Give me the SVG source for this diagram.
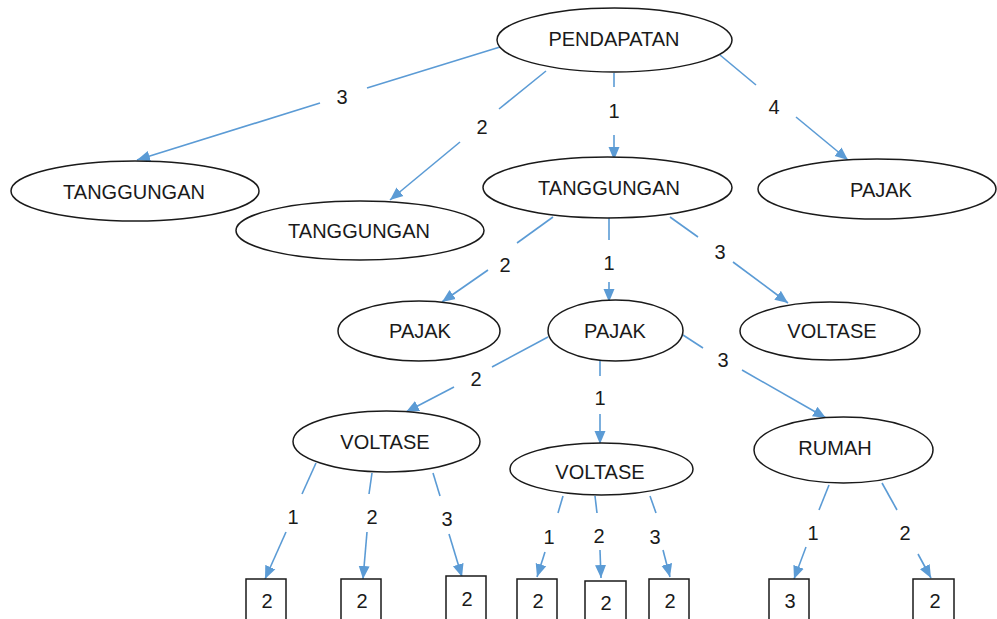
<svg xmlns="http://www.w3.org/2000/svg" width="997" height="619" viewBox="0 0 997 619">
<style>
.n{fill:#fff;stroke:#1a1a1a;stroke-width:1.5}
.t{font-family:"Liberation Sans",Arial,sans-serif;font-size:20px;fill:#1a1a1a;text-anchor:middle}
.c{stroke:#5B9BD5;stroke-width:1.6;fill:none}
</style>
<defs>
<marker id="ah" markerUnits="userSpaceOnUse" markerWidth="14" markerHeight="14" viewBox="0 0 14 14" refX="13" refY="7" orient="auto">
<path d="M0,1.5 L13,7 L0,12.5 Z" fill="#5B9BD5"/>
</marker>
</defs>
<rect width="997" height="619" fill="#fff"/>
<g id="connectors">
<line class="c" x1="500" y1="47" x2="367" y2="88"/><line class="c" x1="320" y1="103" x2="137" y2="160" marker-end="url(#ah)"/>
<line class="c" x1="546" y1="71" x2="499" y2="109"/><line class="c" x1="460" y1="142" x2="390" y2="200" marker-end="url(#ah)"/>
<line class="c" x1="614" y1="73" x2="614" y2="87"/><line class="c" x1="614" y1="135" x2="614" y2="160" marker-end="url(#ah)"/>
<line class="c" x1="720" y1="55" x2="756" y2="85"/><line class="c" x1="796" y1="117" x2="848" y2="160" marker-end="url(#ah)"/>
<line class="c" x1="553" y1="217" x2="517" y2="243"/><line class="c" x1="488" y1="270" x2="442" y2="302" marker-end="url(#ah)"/>
<line class="c" x1="609" y1="218" x2="609" y2="240"/><line class="c" x1="609" y1="282" x2="609" y2="302" marker-end="url(#ah)"/>
<line class="c" x1="670" y1="217" x2="698" y2="237"/><line class="c" x1="733" y1="262" x2="788" y2="303" marker-end="url(#ah)"/>
<line class="c" x1="548" y1="337" x2="492" y2="367"/><line class="c" x1="454" y1="387" x2="406" y2="412" marker-end="url(#ah)"/>
<line class="c" x1="600" y1="356" x2="600" y2="376"/><line class="c" x1="600" y1="414" x2="600" y2="444" marker-end="url(#ah)"/>
<line class="c" x1="683" y1="335" x2="703" y2="348"/><line class="c" x1="742" y1="370" x2="826" y2="418" marker-end="url(#ah)"/>
<line class="c" x1="316" y1="463" x2="302" y2="494"/><line class="c" x1="286" y1="532" x2="265" y2="579" marker-end="url(#ah)"/>
<line class="c" x1="372" y1="473" x2="369" y2="494"/><line class="c" x1="367" y1="532" x2="363" y2="579" marker-end="url(#ah)"/>
<line class="c" x1="433" y1="473" x2="440" y2="496"/><line class="c" x1="449" y1="534" x2="462" y2="577" marker-end="url(#ah)"/>
<line class="c" x1="563" y1="496" x2="558" y2="513"/><line class="c" x1="545" y1="552" x2="537" y2="577" marker-end="url(#ah)"/>
<line class="c" x1="595" y1="496" x2="597" y2="513"/><line class="c" x1="600" y1="550" x2="601" y2="578" marker-end="url(#ah)"/>
<line class="c" x1="650" y1="496" x2="656" y2="513"/><line class="c" x1="663" y1="550" x2="670" y2="577" marker-end="url(#ah)"/>
<line class="c" x1="829" y1="485" x2="819" y2="510"/><line class="c" x1="806" y1="547" x2="794" y2="579" marker-end="url(#ah)"/>
<line class="c" x1="882" y1="483" x2="897" y2="510"/><line class="c" x1="918" y1="554" x2="931" y2="578" marker-end="url(#ah)"/>
<g class="t">
<text x="342" y="104">3</text>
<text x="482" y="134">2</text>
<text x="614" y="118">1</text>
<text x="774" y="114">4</text>
<text x="505" y="272">2</text>
<text x="609" y="270">1</text>
<text x="720" y="259">3</text>
<text x="476" y="386">2</text>
<text x="600" y="405">1</text>
<text x="723" y="367">3</text>
<text x="293" y="524">1</text>
<text x="372" y="524">2</text>
<text x="447" y="526">3</text>
<text x="549" y="544">1</text>
<text x="599" y="543">2</text>
<text x="655" y="544">3</text>
<text x="813" y="540">1</text>
<text x="905" y="540">2</text>
</g>
</g>
<g id="pendapatan"><ellipse class="n" cx="614.5" cy="40" rx="117.5" ry="32"/><text class="t" x="614" y="46">PENDAPATAN</text></g>
<g id="tanggungan1"><ellipse class="n" cx="135" cy="191" rx="124" ry="30"/><text class="t" x="134" y="199">TANGGUNGAN</text></g>
<g id="tanggungan2"><ellipse class="n" cx="360" cy="230.5" rx="124" ry="29.5"/><text class="t" x="359" y="238">TANGGUNGAN</text></g>
<g id="tanggungan3"><ellipse class="n" cx="607.5" cy="187.5" rx="124.5" ry="30.5"/><text class="t" x="609" y="195">TANGGUNGAN</text></g>
<g id="pajak1"><ellipse class="n" cx="877" cy="189" rx="119" ry="30"/><text class="t" x="881" y="197">PAJAK</text></g>
<g id="pajak2"><ellipse class="n" cx="419" cy="331" rx="81" ry="30"/><text class="t" x="420" y="338">PAJAK</text></g>
<g id="pajak3"><ellipse class="n" cx="615.5" cy="330.5" rx="67.5" ry="30.5"/><text class="t" x="615" y="338">PAJAK</text></g>
<g id="voltase1"><ellipse class="n" cx="830" cy="331" rx="90" ry="29"/><text class="t" x="832" y="338">VOLTASE</text></g>
<g id="voltase2"><ellipse class="n" cx="386.5" cy="441.5" rx="93.5" ry="30.5"/><text class="t" x="385" y="449">VOLTASE</text></g>
<g id="voltase3"><ellipse class="n" cx="601.5" cy="469" rx="91.5" ry="26"/><text class="t" x="600" y="479">VOLTASE</text></g>
<g id="rumah"><ellipse class="n" cx="843.5" cy="450" rx="89.5" ry="33"/><text class="t" x="835" y="455">RUMAH</text></g>
<g id="leaf1"><rect class="n" x="246" y="579" width="40" height="50"/><text class="t" x="267" y="608">2</text></g>
<g id="leaf2"><rect class="n" x="341" y="579" width="40" height="50"/><text class="t" x="362" y="608">2</text></g>
<g id="leaf3"><rect class="n" x="446" y="576" width="40" height="50"/><text class="t" x="467" y="606">2</text></g>
<g id="leaf4"><rect class="n" x="517" y="579" width="40" height="50"/><text class="t" x="538" y="608">2</text></g>
<g id="leaf5"><rect class="n" x="585" y="581" width="41" height="50"/><text class="t" x="606" y="610">2</text></g>
<g id="leaf6"><rect class="n" x="649" y="579" width="40" height="50"/><text class="t" x="670" y="608">2</text></g>
<g id="leaf7"><rect class="n" x="769" y="579" width="40" height="50"/><text class="t" x="790" y="608">3</text></g>
<g id="leaf8"><rect class="n" x="913" y="579" width="41" height="50"/><text class="t" x="935" y="608">2</text></g>
</svg>
